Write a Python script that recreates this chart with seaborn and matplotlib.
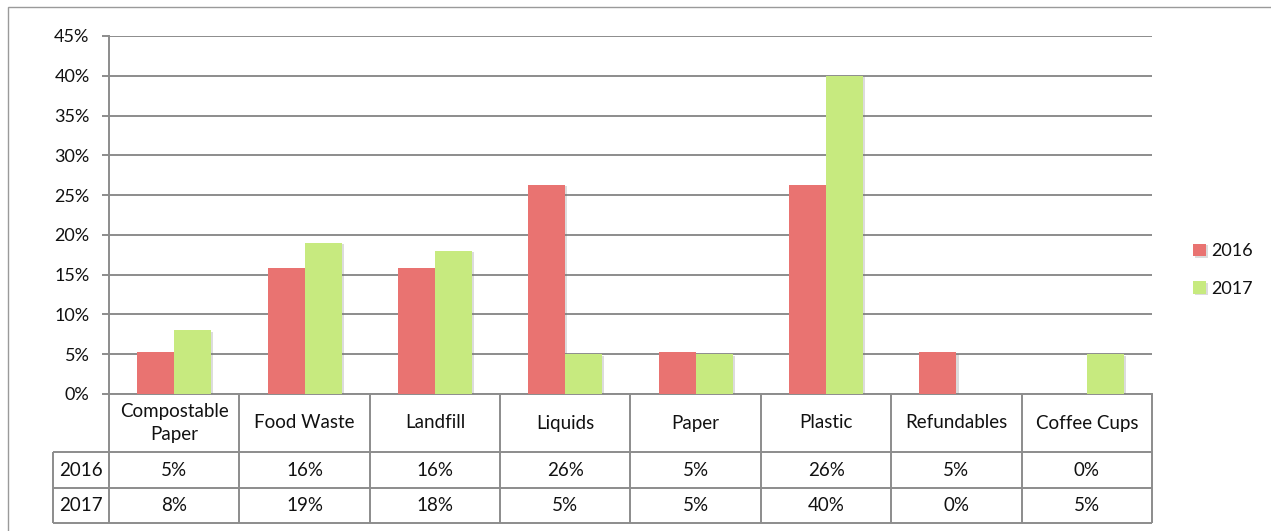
import matplotlib
matplotlib.use("Agg")
import matplotlib.pyplot as plt
import matplotlib.patheffects as pe
from matplotlib.patches import Rectangle
from matplotlib.lines import Line2D
import seaborn as sns
import pandas as pd

# Share of waste by category (fractions of the total for each year)
categories = ["Compostable\nPaper", "Food Waste", "Landfill", "Liquids",
              "Paper", "Plastic", "Refundables", "Coffee Cups"]
years = ["2016", "2017"]
share_2016 = [0.0526, 0.1579, 0.1579, 0.2632, 0.0526, 0.2632, 0.0526, 0.0]
share_2017 = [0.08, 0.19, 0.18, 0.05, 0.05, 0.40, 0.0, 0.05]
y_ticks = [0, 0.05, 0.10, 0.15, 0.20, 0.25, 0.30, 0.35, 0.40, 0.45]

colors = {"2016": "#E97371", "2017": "#C7EA7F"}
grid_c = "#8C8C8C"
text_c = "#111111"
fs = 13
table_fs = 13.5

sns.set_theme(style="white")
plt.rcParams["font.family"] = ["Lato", "DejaVu Sans"]

df = pd.DataFrame({
    "category": categories * 2,
    "share": share_2016 + share_2017,
    "year": [years[0]] * len(categories) + [years[1]] * len(categories),
})

W, H = 1271, 531
fig = plt.figure(figsize=(W / 100, H / 100), dpi=100)
fig.patch.set_facecolor("white")

left_px, right_px, top_px, bottom_px = 109, 1152, 36, 394
ax = fig.add_axes([left_px / W, 1 - bottom_px / H,
                   (right_px - left_px) / W, (bottom_px - top_px) / H])

sns.barplot(data=df, x="category", y="share", hue="year", palette=colors,
            width=0.567, saturation=1, edgecolor="none", linewidth=0,
            ax=ax, legend=True, zorder=3)

for bar in ax.patches:
    bar.set_path_effects([
        pe.SimplePatchShadow(offset=(1.5, -1.0), shadow_rgbFace="#777777", alpha=0.25),
        pe.Normal(),
    ])

ax.set_xlim(-0.5, len(categories) - 0.5)
ax.set_ylim(0, 0.45)
ax.set_yticks(y_ticks)
ax.set_yticklabels([f"{t:.0%}" for t in y_ticks], fontsize=fs, color=text_c)
ax.yaxis.grid(True, color=grid_c, linewidth=1.4, zorder=0)
ax.set_axisbelow(True)
ax.set_xticks([])
ax.set_xlabel("")
ax.set_ylabel("")
for side in ["top", "right"]:
    ax.spines[side].set_visible(False)
for side in ["left", "bottom"]:
    ax.spines[side].set_color(grid_c)
    ax.spines[side].set_linewidth(1.4)
ax.tick_params(axis="y", which="major", left=True, length=5, width=1.4,
               color=grid_c, pad=9)

# Legend to the right of the plot area
handles, labels = ax.get_legend_handles_labels()
ax.legend(handles, labels, loc="center left", bbox_to_anchor=(1.024, 0.346),
          frameon=False, fontsize=fs, handlelength=0.7, handleheight=0.7,
          handletextpad=0.3, labelspacing=1.2, labelcolor=text_c)

# Data table under the x axis, sharing the category positions
table_bottom_px = 523
tax = fig.add_axes([left_px / W, 1 - table_bottom_px / H,
                    (right_px - left_px) / W, (table_bottom_px - bottom_px) / H],
                   sharex=ax)
tax.set_ylim(0, table_bottom_px - bottom_px)
tax.axis("off")

n = len(categories)
x0, x1 = -0.5, n - 0.5
label_x = x0 - (left_px - 53) / ((right_px - left_px) / n)
row_top = table_bottom_px - bottom_px
row_a = 71
row_b = 35
lk = dict(color=grid_c, linewidth=1.4, clip_on=False, solid_capstyle="butt")

for yv in (row_a, row_b, 0):
    tax.add_line(Line2D([label_x, x1], [yv, yv], **lk))
for i in range(n + 1):
    tax.add_line(Line2D([x0 + i, x0 + i], [0, row_top], **lk))
tax.add_line(Line2D([label_x, label_x], [0, row_a], **lk))

for i, cat in enumerate(categories):
    tax.text(i, (row_a + row_top) / 2, cat, ha="center", va="center",
             fontsize=table_fs, color=text_c, linespacing=1.4)
    tax.text(i, (row_b + row_a) / 2, f"{share_2016[i]:.0%}", ha="center",
             va="center", fontsize=table_fs, color=text_c)
    tax.text(i, row_b / 2, f"{share_2017[i]:.0%}", ha="center",
             va="center", fontsize=table_fs, color=text_c)
tax.text((label_x + x0) / 2, (row_b + row_a) / 2, years[0], ha="center",
         va="center", fontsize=table_fs, color=text_c, clip_on=False)
tax.text((label_x + x0) / 2, row_b / 2, years[1], ha="center",
         va="center", fontsize=table_fs, color=text_c, clip_on=False)

# Chart area border
fig.add_artist(Rectangle((8 / W, -0.1), 2, 1 - 7 / H + 0.1,
                         transform=fig.transFigure, fill=False,
                         edgecolor="#9A9A9A", linewidth=1.0))

fig.savefig("out.png", dpi=100, facecolor="white")
